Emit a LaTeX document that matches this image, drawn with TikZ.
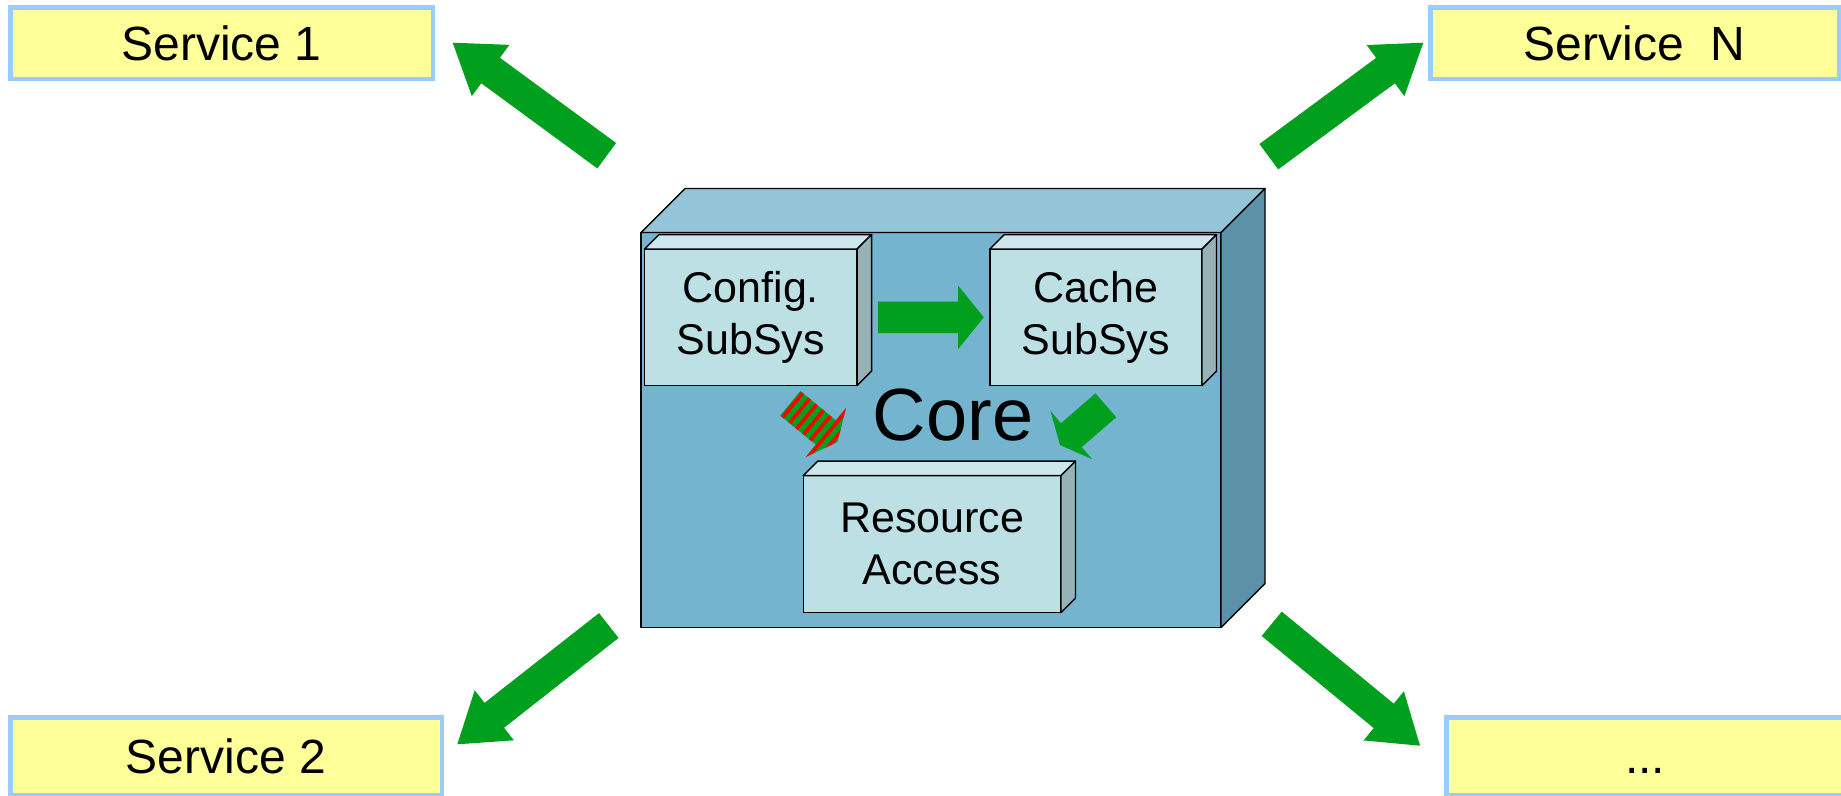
\documentclass[tikz,border=0pt]{standalone}
\usepackage{fontspec}
\setmainfont{Liberation Sans}
\usetikzlibrary{positioning, calc}

\definecolor{svcfill}{HTML}{FFFF99}
\definecolor{svcline}{HTML}{99CCFF}
\definecolor{corefront}{HTML}{74B4CF}
\definecolor{coretop}{HTML}{93C4D8}
\definecolor{coreside}{HTML}{5B92A8}
\definecolor{subfront}{HTML}{BDE0E4}
\definecolor{subtop}{HTML}{CDE8EC}
\definecolor{subside}{HTML}{96B2B7}
\definecolor{arrowgreen}{HTML}{00A01E}

% half widths of the block arrows
\newcommand{\shafthw}{15.8pt}
\newcommand{\headhw}{31.8pt}

% block arrow: [style]{from}{to}{head length}
\newcommand{\fatarrow}[4][fill=arrowgreen]{%
  \coordinate (fahead) at ($(#3)!#4!(#2)$);
  \path[#1] ($(#2)!\shafthw!90:(#3)$) -- ($(fahead)!\shafthw!90:(#3)$)
    -- ($(fahead)!\headhw!90:(#3)$) -- (#3)
    -- ($(fahead)!\headhw!-90:(#3)$) -- ($(fahead)!\shafthw!-90:(#3)$)
    -- ($(#2)!\shafthw!-90:(#3)$) -- cycle;}

% top and right faces of a box node: {node}{depth}{top}{side}
\newcommand{\boxfaces}[4]{%
  \draw[face, fill=#3] (#1.north west) -- ++(#2,-#2)
    -- ($(#1.north east)+(#2,-#2)$) -- (#1.north east) -- cycle;
  \draw[face, fill=#4] (#1.north east) -- ++(#2,-#2)
    -- ($(#1.south east)+(#2,-#2)$) -- (#1.south east) -- cycle;}

\begin{document}
\begin{tikzpicture}[
    x=1pt, y=-1pt,
    service/.style={draw=svcline, line width=4.5pt, fill=svcfill, inner sep=0pt,
                    outer sep=0pt, minimum height=71.5pt, text height=35pt, text depth=0pt,
                    font=\fontsize{48}{58}\selectfont},
    subsys/.style={draw, line width=1.4pt, fill=subfront, inner sep=0pt, outer sep=0pt,
                   minimum height=136.5pt, align=center,
                   font=\fontsize{43}{51.7}\selectfont},
    face/.style={draw, line width=1.4pt, line join=round},
    stripe/.style={red, line width=3.6pt}]

  \path[use as bounding box, fill=white] (0,0) rectangle (1841,795);
  \clip (0,0) rectangle (1841,795);

  % === Services ===
  \node[service, minimum width=422.5pt] (svcone) at (221.5,43) {Service 1};
  \node[service, minimum width=408.5pt] (svcn) at (1634.5,43) {Service~~N};
  \node[service, minimum width=431.5pt, minimum height=77.5pt] (svctwo) at (226,756) {Service 2};
  \node[service, minimum width=397.5pt, minimum height=77.5pt] (svcmore) at (1645,756) {...};

  % === Core box ===
  \node[face, fill=corefront, inner sep=0pt, outer sep=0pt,
        minimum width=580pt, minimum height=395pt] (core) at (931,430) {};
  \boxfaces{core}{44}{coretop}{coreside}
  \node[font=\fontsize{74}{88}\selectfont] (coretext) at (953,415) {Core};

  % Subsystems
  \node[subsys, minimum width=212.7pt] (config) at (750.8,317.3) {Config.\\SubSys};
  \node[subsys, minimum width=212.2pt] (cache) at (1095.9,317.3) {Cache\\SubSys};
  \node[subsys, minimum width=257.8pt, minimum height=137pt] (resource) at (932.1,544.1)
    {Resource\\Access};
  \boxfaces{config}{14.5}{subtop}{subside}
  \boxfaces{cache}{14.5}{subtop}{subside}
  \boxfaces{resource}{14.5}{subtop}{subside}

  % === Arrows inside the core ===
  \coordinate (cfgout) at ($(config.east)+(21,0)$);
  \coordinate (cachein) at ($(cache.west)+(-6,0)$);
  \fatarrow{cfgout}{cachein}{25.7pt}

  \coordinate (cacheout) at (1105.8,405.3);
  \coordinate (resin) at (1060,445);
  \fatarrow{cacheout}{resin}{15pt}

  \coordinate (cfgdown) at (790.3,403.3);
  \coordinate (resleft) at (837.4,442);
  \fatarrow{cfgdown}{resleft}{15pt}
  \begin{scope}
    \fatarrow[clip]{cfgdown}{resleft}{15pt}
    \foreach \t in {3,12,...,57} {
      \coordinate (sp) at ($(cfgdown)!\t pt!(resleft)$);
      \draw[stripe] ($(sp)!45pt!90:(resleft)$) -- ($(sp)!45pt!-90:(resleft)$);
    }
  \end{scope}

  % === Arrows out to the services ===
  \coordinate (outone) at (606.7,155.7);
  \coordinate (inone) at (452.7,42.7);
  \coordinate (outn) at (1268.8,156.7);
  \coordinate (inn) at (1423.3,42.7);
  \coordinate (outtwo) at (608.8,625.5);
  \coordinate (intwo) at (457.3,744.3);
  \coordinate (outmore) at (1271.7,623.8);
  \coordinate (inmore) at (1420,745.7);
  \fatarrow{outone}{inone}{47pt}
  \fatarrow{outn}{inn}{47pt}
  \fatarrow{outtwo}{intwo}{47pt}
  \fatarrow{outmore}{inmore}{47pt}

\end{tikzpicture}
\end{document}
